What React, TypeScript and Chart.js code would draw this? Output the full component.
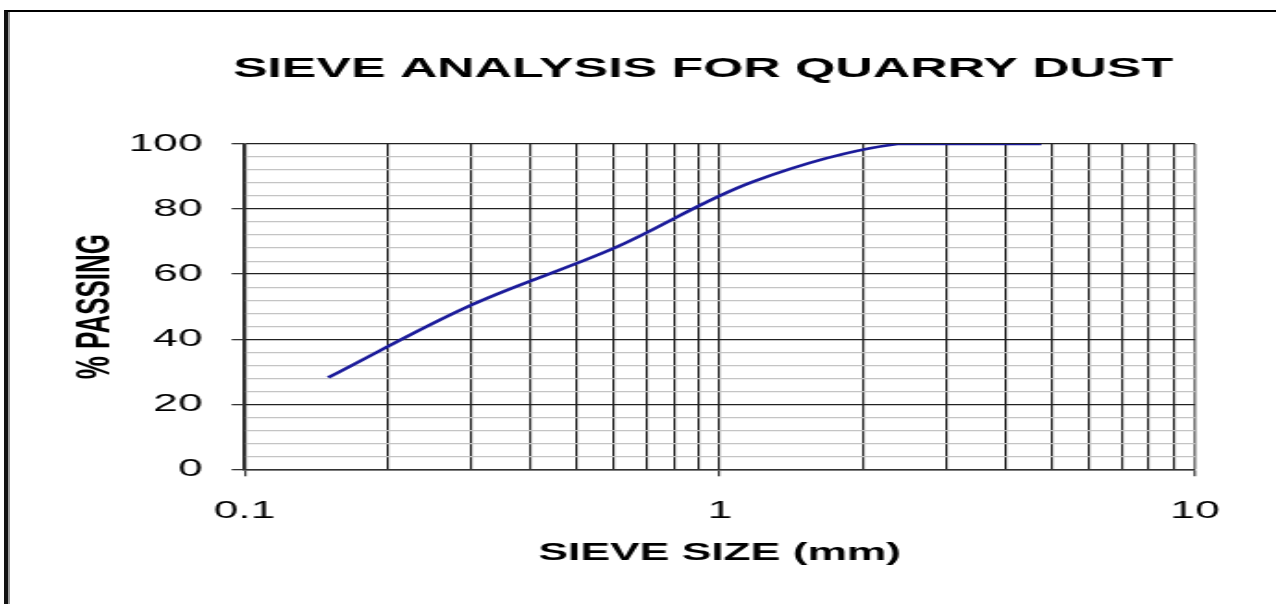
import React, { useEffect, useRef } from 'react';
import { Chart, registerables } from 'chart.js';

Chart.register(...registerables);

// ---- Data ----
const TITLE = 'SIEVE ANALYSIS FOR QUARRY DUST';
const X_TITLE = 'SIEVE SIZE (mm)';
const Y_TITLE = '% PASSING';
const SIEVE_SIZES = [0.15, 0.3, 0.6, 1.18, 2.36, 4.75];
const PERCENT_PASSING = [28.2, 50.5, 68, 88.5, 100, 100];
const X_GRID_VALUES = [0.1, 0.2, 0.3, 0.4, 0.5, 0.6, 0.7, 0.8, 0.9, 1, 2, 3, 4, 5, 6, 7, 8, 9, 10];
const X_TICK_LABELS = [0.1, 1, 10];
const Y_GRID_VALUES = [0, 4, 8, 12, 16, 20, 24, 28, 32, 36, 40, 44, 48, 52, 56, 60, 64, 68, 72, 76, 80, 84, 88, 92, 96, 100];
const Y_TICK_LABELS = [0, 20, 40, 60, 80, 100];

// ---- Layout ----
const SX = 1.85; // horizontal stretch of the whole picture
const W = 760;
const H = 604;
const FONT = "'Liberation Sans', Arial, sans-serif";

Chart.defaults.font.family = FONT;

export default function App() {
  const ref = useRef<HTMLCanvasElement>(null);

  useEffect(() => {
    const canvas = ref.current;
    if (!canvas) return;
    const chart = new Chart(canvas, {
      type: 'line',
      data: {
        datasets: [
          {
            data: SIEVE_SIZES.map((x, i) => ({ x, y: PERCENT_PASSING[i] })),
            borderColor: '#1b1b9a',
            borderWidth: 2.6,
            pointRadius: 0,
            tension: 0.35,
            fill: false,
            xAxisID: 'x',
            yAxisID: 'y',
          },
        ],
      },
      options: {
        animation: false,
        responsive: true,
        maintainAspectRatio: false,
        layout: { padding: 0 },
        events: [],
        plugins: {
          legend: { display: false },
          tooltip: { enabled: false },
          title: {
            display: true,
            text: TITLE,
            color: '#000',
            font: { family: FONT, size: 28, weight: 'bold' },
            padding: { top: 52.2, bottom: 58.2 },
          },
        },
        scales: {
          x: {
            type: 'logarithmic',
            min: 0.1,
            max: 10,
            afterBuildTicks: (s: any) => {
              s.ticks = X_GRID_VALUES.map((v) => ({ value: v }));
            },
            afterFit: (s: any) => {
              s.height = 134.7;
            },
            ticks: {
              autoSkip: false,
              maxRotation: 0,
              minRotation: 0,
              padding: 20.3,
              color: '#000',
              font: { family: FONT, size: 24 },
              callback: (v: any) => (X_TICK_LABELS.includes(Number(v)) ? String(v) : ''),
            },
            grid: {
              color: (ctx: any) =>
                ctx.tick && ctx.tick.value === 10 ? '#7a7a7a' : '#222',
              lineWidth: (ctx: any) => (ctx.tick && ctx.tick.value === 10 ? 1.6 : 1.15),
              tickLength: 7,
              tickColor: (ctx: any) =>
                ctx.tick && X_TICK_LABELS.includes(ctx.tick.value) ? '#333' : 'rgba(0,0,0,0)',
              tickWidth: 1.2,
            },
            border: { display: true, color: '#333', width: 1.6 },
            title: {
              display: true,
              text: X_TITLE,
              color: '#000',
              font: { family: FONT, size: 24, weight: 'bold' },
              padding: { top: 0, bottom: 36.6 },
            },
          },
          y: {
            type: 'linear',
            position: 'left',
            min: 0,
            max: 100,
            afterBuildTicks: (s: any) => {
              s.ticks = Y_GRID_VALUES.map((v) => ({ value: v }));
            },
            afterFit: (s: any) => {
              s.width = 132.2;
            },
            ticks: {
              autoSkip: false,
              padding: 15.7,
              color: '#000',
              font: { family: FONT, size: 24 },
              callback: (v: any) => (Y_TICK_LABELS.includes(Number(v)) ? String(v) : ''),
            },
            grid: {
              color: (ctx: any) =>
                ctx.tick && Y_TICK_LABELS.includes(ctx.tick.value) ? '#222' : '#c4c4c4',
              lineWidth: (ctx: any) =>
                ctx.tick && Y_TICK_LABELS.includes(ctx.tick.value) ? 1.3 : 1.2,
              tickLength: 7,
              tickColor: (ctx: any) =>
                ctx.tick && Y_TICK_LABELS.includes(ctx.tick.value) ? '#333' : 'rgba(0,0,0,0)',
            },
            border: { display: true, color: '#333', width: 1.6 },
            title: {
              display: true,
              text: Y_TITLE,
              color: '#000',
              font: { family: FONT, size: 26, weight: 'bold' },
              padding: { top: 36.3, bottom: 0 },
            },
          },
          y2: {
            type: 'linear',
            position: 'right',
            grid: { display: false },
            ticks: { display: false },
            border: { display: false },
            afterFit: (s: any) => {
              s.width = 114.1;
            },
          },
        },
      },
    } as any);
    return () => chart.destroy();
  }, []);

  return (
    <div
      style={{
        position: 'fixed',
        left: 0,
        top: 0,
        width: 1276,
        height: 604,
        overflow: 'hidden',
        background: '#fff',
      }}
    >
      <div
        style={{
          position: 'absolute',
          left: 0,
          top: 0,
          width: W,
          height: H,
          transform: `scaleX(${SX})`,
          transformOrigin: '0 0',
        }}
      >
        <canvas ref={ref} />
      </div>
      <div
        style={{
          position: 'absolute',
          left: 4,
          top: 10,
          right: -20,
          bottom: -20,
          borderTop: '2px solid #000',
          borderLeft: '4px solid #111',
          pointerEvents: 'none',
        }}
      />
      <div
        style={{
          position: 'absolute',
          left: 8,
          top: 12,
          width: 2,
          bottom: 0,
          background: '#9a9a9a',
          pointerEvents: 'none',
        }}
      />
    </div>
  );
}
